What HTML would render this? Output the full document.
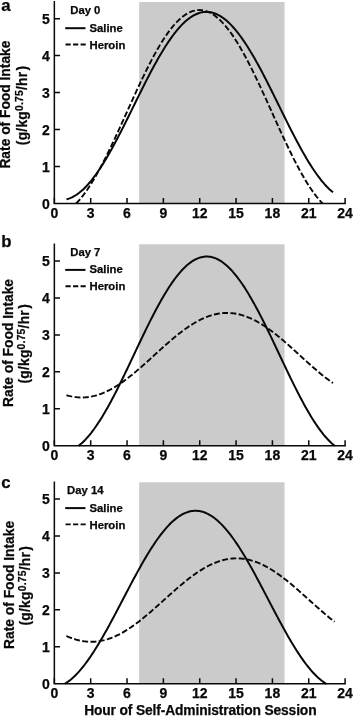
<!DOCTYPE html>
<html><head><meta charset="utf-8"><title>Figure</title>
<style>
html,body{margin:0;padding:0;background:#fff;}
body{width:354px;height:717px;overflow:hidden;}
svg{display:block;will-change:transform;}
text{font-family:"Liberation Sans",sans-serif;font-weight:bold;fill:#080808;stroke:#080808;stroke-width:0.25px;}
.tk{font-size:14px;}
.lg{font-size:11.3px;}
.ax{font-size:13.5px;}
.pl{font-size:16.8px;}
.ln{stroke:#080808;fill:none;}
</style></head><body>
<svg width="354" height="717" viewBox="0 0 354 717">
<rect x="0" y="0" width="354" height="717" fill="#fff"/>

<g>
<rect x="139.16" y="2.01" width="145.38" height="201.49" fill="#cbcbcb"/>
<path class="ln" stroke-width="1.5" d="M54.35,1.09 V203.50 H345.86"/>
<path class="ln" stroke-width="1.5" d="M54.35,166.53 h5.6 M54.35,129.56 h5.6 M54.35,92.59 h5.6 M54.35,55.62 h5.6 M54.35,18.65 h5.6 M54.35,203.50 v-5.6 M90.69,203.50 v-5.6 M127.04,203.50 v-5.6 M163.38,203.50 v-5.6 M199.73,203.50 v-5.6 M236.07,203.50 v-5.6 M272.42,203.50 v-5.6 M308.76,203.50 v-5.6 M345.11,203.50 v-5.6"/>
<text class="tk" x="49.9" y="208.5" text-anchor="end">0</text>
<text class="tk" x="49.9" y="171.5" text-anchor="end">1</text>
<text class="tk" x="49.9" y="134.6" text-anchor="end">2</text>
<text class="tk" x="49.9" y="97.6" text-anchor="end">3</text>
<text class="tk" x="49.9" y="60.6" text-anchor="end">4</text>
<text class="tk" x="49.9" y="23.7" text-anchor="end">5</text>
<text class="tk" x="54.4" y="217.9" text-anchor="middle">0</text>
<text class="tk" x="90.7" y="217.9" text-anchor="middle">3</text>
<text class="tk" x="127.0" y="217.9" text-anchor="middle">6</text>
<text class="tk" x="163.4" y="217.9" text-anchor="middle">9</text>
<text class="tk" x="199.7" y="217.9" text-anchor="middle">12</text>
<text class="tk" x="236.1" y="217.9" text-anchor="middle">15</text>
<text class="tk" x="272.4" y="217.9" text-anchor="middle">18</text>
<text class="tk" x="308.8" y="217.9" text-anchor="middle">21</text>
<text class="tk" x="345.1" y="217.9" text-anchor="middle">24</text>
<text class="ax" style="font-size:13.8px" transform="translate(10.3,104.6) rotate(-90)" text-anchor="middle">Rate of Food Intake</text>
<text class="ax" style="font-size:13.8px;letter-spacing:0.24px" transform="translate(26.5,105.4) rotate(-90)" text-anchor="middle">(g/kg<tspan font-size="10.3px" dy="-3.9">0.75</tspan><tspan dy="3.9">/hr</tspan><tspan dx="1.2">)</tspan></text>
<text class="pl" x="1.2" y="11.2">a</text>
<text class="lg" x="85.3" text-anchor="middle" y="14.2">Day 0</text>
<path class="ln" stroke-width="2.0" d="M65.2,28.2 h20.3"/>
<text class="lg" x="89.5" y="31.6">Saline</text>
<path class="ln" stroke-width="1.9" stroke-dasharray="5.2,2.35" d="M65.5,44.5 h20.2"/>
<text class="lg" x="89.5" y="48.6">Heroin</text>
<path class="ln" stroke-width="2.0" d="M66.47,199.32 L67.68,199.00 L68.89,198.61 L70.10,198.16 L71.31,197.65 L72.52,197.08 L73.73,196.44 L74.95,195.74 L76.16,194.98 L77.37,194.16 L78.58,193.28 L79.79,192.34 L81.00,191.33 L82.21,190.27 L83.43,189.16 L84.64,187.98 L85.85,186.75 L87.06,185.46 L88.27,184.12 L89.48,182.73 L90.69,181.28 L91.91,179.78 L93.12,178.23 L94.33,176.64 L95.54,174.99 L96.75,173.29 L97.96,171.55 L99.18,169.77 L100.39,167.94 L101.60,166.07 L102.81,164.15 L104.02,162.20 L105.23,160.21 L106.44,158.18 L107.66,156.11 L108.87,154.02 L110.08,151.88 L111.29,149.72 L112.50,147.53 L113.71,145.30 L114.93,143.06 L116.14,140.78 L117.35,138.48 L118.56,136.16 L119.77,133.82 L120.98,131.46 L122.19,129.08 L123.41,126.69 L124.62,124.28 L125.83,121.86 L127.04,119.43 L128.25,116.99 L129.46,114.54 L130.67,112.09 L131.89,109.63 L133.10,107.17 L134.31,104.71 L135.52,102.24 L136.73,99.79 L137.94,97.33 L139.16,94.88 L140.37,92.44 L141.58,90.01 L142.79,87.59 L144.00,85.18 L145.21,82.79 L146.42,80.41 L147.64,78.05 L148.85,75.71 L150.06,73.39 L151.27,71.09 L152.48,68.82 L153.69,66.57 L154.90,64.34 L156.12,62.15 L157.33,59.99 L158.54,57.86 L159.75,55.76 L160.96,53.69 L162.17,51.66 L163.38,49.67 L164.60,47.72 L165.81,45.81 L167.02,43.93 L168.23,42.10 L169.44,40.32 L170.65,38.58 L171.87,36.88 L173.08,35.24 L174.29,33.64 L175.50,32.09 L176.71,30.59 L177.92,29.14 L179.13,27.75 L180.35,26.41 L181.56,25.12 L182.77,23.89 L183.98,22.72 L185.19,21.60 L186.40,20.54 L187.62,19.54 L188.83,18.59 L190.04,17.71 L191.25,16.89 L192.46,16.13 L193.67,15.43 L194.88,14.79 L196.10,14.22 L197.31,13.71 L198.52,13.26 L199.73,12.87 L200.94,12.55 L202.15,12.29 L203.36,12.10 L204.58,11.97 L205.79,11.91 L207.00,11.91 L208.21,11.97 L209.42,12.10 L210.63,12.29 L211.84,12.55 L213.06,12.87 L214.27,13.26 L215.48,13.71 L216.69,14.22 L217.90,14.79 L219.11,15.43 L220.33,16.13 L221.54,16.89 L222.75,17.71 L223.96,18.59 L225.17,19.54 L226.38,20.54 L227.59,21.60 L228.81,22.72 L230.02,23.89 L231.23,25.12 L232.44,26.41 L233.65,27.75 L234.86,29.14 L236.07,30.59 L237.29,32.09 L238.50,33.64 L239.71,35.24 L240.92,36.88 L242.13,38.58 L243.34,40.32 L244.56,42.10 L245.77,43.93 L246.98,45.81 L248.19,47.72 L249.40,49.67 L250.61,51.66 L251.82,53.69 L253.04,55.76 L254.25,57.86 L255.46,59.99 L256.67,62.15 L257.88,64.34 L259.09,66.57 L260.31,68.82 L261.52,71.09 L262.73,73.39 L263.94,75.71 L265.15,78.05 L266.36,80.41 L267.57,82.79 L268.79,85.18 L270.00,87.59 L271.21,90.01 L272.42,92.44 L273.63,94.88 L274.84,97.33 L276.05,99.79 L277.27,102.24 L278.48,104.71 L279.69,107.17 L280.90,109.63 L282.11,112.09 L283.32,114.54 L284.54,116.99 L285.75,119.43 L286.96,121.86 L288.17,124.28 L289.38,126.69 L290.59,129.08 L291.80,131.46 L293.02,133.82 L294.23,136.16 L295.44,138.48 L296.65,140.78 L297.86,143.06 L299.07,145.30 L300.28,147.53 L301.50,149.72 L302.71,151.88 L303.92,154.02 L305.13,156.11 L306.34,158.18 L307.55,160.21 L308.76,162.20 L309.98,164.15 L311.19,166.07 L312.40,167.94 L313.61,169.77 L314.82,171.55 L316.03,173.29 L317.25,174.99 L318.46,176.64 L319.67,178.23 L320.88,179.78 L322.09,181.28 L323.30,182.73 L324.51,184.12 L325.73,185.46 L326.94,186.75 L328.15,187.98 L329.36,189.16 L330.57,190.27 L331.78,191.33 L333.00,192.34"/>
<path class="ln" stroke-width="1.9" stroke-dasharray="5.9,2.4" d="M76.17,203.50 L77.37,202.25 L78.58,200.92 L79.79,199.53 L81.00,198.08 L82.21,196.57 L83.43,195.00 L84.64,193.38 L85.85,191.70 L87.06,189.97 L88.27,188.19 L89.48,186.35 L90.69,184.46 L91.91,182.53 L93.12,180.54 L94.33,178.51 L95.54,176.43 L96.75,174.31 L97.96,172.15 L99.18,169.95 L100.39,167.70 L101.60,165.42 L102.81,163.11 L104.02,160.76 L105.23,158.37 L106.44,155.96 L107.66,153.51 L108.87,151.04 L110.08,148.54 L111.29,146.01 L112.50,143.46 L113.71,140.90 L114.93,138.31 L116.14,135.70 L117.35,133.08 L118.56,130.44 L119.77,127.80 L120.98,125.14 L122.19,122.47 L123.41,119.80 L124.62,117.12 L125.83,114.44 L127.04,111.75 L128.25,109.07 L129.46,106.39 L130.67,103.71 L131.89,101.04 L133.10,98.38 L134.31,95.73 L135.52,93.09 L136.73,90.46 L137.94,87.85 L139.16,85.25 L140.37,82.68 L141.58,80.12 L142.79,77.59 L144.00,75.08 L145.21,72.59 L146.42,70.14 L147.64,67.71 L148.85,65.31 L150.06,62.95 L151.27,60.61 L152.48,58.32 L153.69,56.06 L154.90,53.84 L156.12,51.66 L157.33,49.53 L158.54,47.43 L159.75,45.38 L160.96,43.38 L162.17,41.42 L163.38,39.52 L164.60,37.66 L165.81,35.85 L167.02,34.10 L168.23,32.40 L169.44,30.76 L170.65,29.17 L171.87,27.64 L173.08,26.16 L174.29,24.75 L175.50,23.39 L176.71,22.10 L177.92,20.87 L179.13,19.70 L180.35,18.60 L181.56,17.56 L182.77,16.58 L183.98,15.68 L185.19,14.83 L186.40,14.06 L187.62,13.35 L188.83,12.71 L190.04,12.14 L191.25,11.64 L192.46,11.20 L193.67,10.84 L194.88,10.54 L196.10,10.32 L197.31,10.16 L198.52,10.08 L199.73,10.07 L200.94,10.12 L202.15,10.25 L203.36,10.44 L204.58,10.71 L205.79,11.05 L207.00,11.45 L208.21,11.93 L209.42,12.47 L210.63,13.09 L211.84,13.77 L213.06,14.51 L214.27,15.33 L215.48,16.21 L216.69,17.16 L217.90,18.18 L219.11,19.25 L220.33,20.40 L221.54,21.60 L222.75,22.87 L223.96,24.20 L225.17,25.59 L226.38,27.04 L227.59,28.55 L228.81,30.11 L230.02,31.74 L231.23,33.41 L232.44,35.15 L233.65,36.93 L234.86,38.77 L236.07,40.65 L237.29,42.59 L238.50,44.58 L239.71,46.61 L240.92,48.68 L242.13,50.80 L243.34,52.97 L244.56,55.17 L245.77,57.41 L246.98,59.69 L248.19,62.01 L249.40,64.36 L250.61,66.74 L251.82,69.16 L253.04,71.61 L254.25,74.08 L255.46,76.58 L256.67,79.10 L257.88,81.65 L259.09,84.22 L260.31,86.81 L261.52,89.41 L262.73,92.04 L263.94,94.67 L265.15,97.32 L266.36,99.98 L267.57,102.65 L268.79,105.32 L270.00,108.00 L271.21,110.68 L272.42,113.36 L273.63,116.05 L274.84,118.73 L276.05,121.40 L277.27,124.07 L278.48,126.73 L279.69,129.39 L280.90,132.03 L282.11,134.66 L283.32,137.27 L284.54,139.86 L285.75,142.44 L286.96,145.00 L288.17,147.53 L289.38,150.04 L290.59,152.52 L291.80,154.98 L293.02,157.41 L294.23,159.81 L295.44,162.17 L296.65,164.50 L297.86,166.80 L299.07,169.05 L300.28,171.27 L301.50,173.45 L302.71,175.59 L303.92,177.68 L305.13,179.73 L306.34,181.74 L307.55,183.69 L308.76,185.60 L309.98,187.46 L311.19,189.26 L312.40,191.02 L313.61,192.72 L314.82,194.36 L316.03,195.95 L317.25,197.48 L318.46,198.95 L319.67,200.37 L320.88,201.72 L322.09,203.01 L322.57,203.50"/>
</g>
<g>
<rect x="139.16" y="244.31" width="145.38" height="201.49" fill="#cbcbcb"/>
<path class="ln" stroke-width="1.5" d="M54.35,243.39 V445.80 H345.86"/>
<path class="ln" stroke-width="1.5" d="M54.35,408.83 h5.6 M54.35,371.86 h5.6 M54.35,334.89 h5.6 M54.35,297.92 h5.6 M54.35,260.95 h5.6 M54.35,445.80 v-5.6 M90.69,445.80 v-5.6 M127.04,445.80 v-5.6 M163.38,445.80 v-5.6 M199.73,445.80 v-5.6 M236.07,445.80 v-5.6 M272.42,445.80 v-5.6 M308.76,445.80 v-5.6 M345.11,445.80 v-5.6"/>
<text class="tk" x="49.9" y="450.8" text-anchor="end">0</text>
<text class="tk" x="49.9" y="413.8" text-anchor="end">1</text>
<text class="tk" x="49.9" y="376.9" text-anchor="end">2</text>
<text class="tk" x="49.9" y="339.9" text-anchor="end">3</text>
<text class="tk" x="49.9" y="302.9" text-anchor="end">4</text>
<text class="tk" x="49.9" y="266.0" text-anchor="end">5</text>
<text class="tk" x="54.4" y="460.2" text-anchor="middle">0</text>
<text class="tk" x="90.7" y="460.2" text-anchor="middle">3</text>
<text class="tk" x="127.0" y="460.2" text-anchor="middle">6</text>
<text class="tk" x="163.4" y="460.2" text-anchor="middle">9</text>
<text class="tk" x="199.7" y="460.2" text-anchor="middle">12</text>
<text class="tk" x="236.1" y="460.2" text-anchor="middle">15</text>
<text class="tk" x="272.4" y="460.2" text-anchor="middle">18</text>
<text class="tk" x="308.8" y="460.2" text-anchor="middle">21</text>
<text class="tk" x="345.1" y="460.2" text-anchor="middle">24</text>
<text class="ax" style="font-size:13.8px" transform="translate(12.8,343.0) rotate(-90)" text-anchor="middle">Rate of Food Intake</text>
<text class="ax" style="font-size:13.8px;letter-spacing:0.24px" transform="translate(29.0,343.8) rotate(-90)" text-anchor="middle">(g/kg<tspan font-size="10.3px" dy="-3.9">0.75</tspan><tspan dy="3.9">/hr</tspan><tspan dx="1.2">)</tspan></text>
<text class="pl" x="1.2" y="247.4">b</text>
<text class="lg" x="85.3" text-anchor="middle" y="255.9">Day 7</text>
<path class="ln" stroke-width="2.0" d="M65.2,269.9 h20.3"/>
<text class="lg" x="89.5" y="273.3">Saline</text>
<path class="ln" stroke-width="1.9" stroke-dasharray="5.2,2.35" d="M65.5,286.2 h20.2"/>
<text class="lg" x="89.5" y="290.3">Heroin</text>
<path class="ln" stroke-width="2.0" d="M78.60,445.80 L78.86,445.61 L80.09,444.60 L81.33,443.53 L82.57,442.40 L83.81,441.21 L85.05,439.95 L86.29,438.63 L87.53,437.25 L88.77,435.82 L90.01,434.32 L91.25,432.77 L92.48,431.16 L93.72,429.49 L94.96,427.78 L96.20,426.01 L97.44,424.18 L98.68,422.31 L99.92,420.39 L101.16,418.43 L102.40,416.41 L103.64,414.35 L104.88,412.25 L106.11,410.11 L107.35,407.93 L108.59,405.71 L109.83,403.45 L111.07,401.16 L112.31,398.84 L113.55,396.48 L114.79,394.10 L116.03,391.68 L117.27,389.24 L118.50,386.77 L119.74,384.28 L120.98,381.77 L122.22,379.24 L123.46,376.69 L124.70,374.13 L125.94,371.55 L127.18,368.96 L128.42,366.36 L129.66,363.75 L130.89,361.13 L132.13,358.51 L133.37,355.89 L134.61,353.27 L135.85,350.64 L137.09,348.02 L138.33,345.41 L139.57,342.80 L140.81,340.20 L142.05,337.61 L143.29,335.03 L144.52,332.46 L145.76,329.92 L147.00,327.38 L148.24,324.87 L149.48,322.38 L150.72,319.92 L151.96,317.47 L153.20,315.06 L154.44,312.67 L155.68,310.31 L156.91,307.99 L158.15,305.70 L159.39,303.44 L160.63,301.22 L161.87,299.04 L163.11,296.89 L164.35,294.79 L165.59,292.73 L166.83,290.72 L168.07,288.75 L169.30,286.83 L170.54,284.96 L171.78,283.13 L173.02,281.36 L174.26,279.64 L175.50,277.98 L176.74,276.37 L177.98,274.81 L179.22,273.32 L180.46,271.88 L181.70,270.50 L182.93,269.18 L184.17,267.92 L185.41,266.72 L186.65,265.59 L187.89,264.52 L189.13,263.52 L190.37,262.58 L191.61,261.70 L192.85,260.89 L194.09,260.15 L195.32,259.48 L196.56,258.88 L197.80,258.34 L199.04,257.88 L200.28,257.48 L201.52,257.15 L202.76,256.89 L204.00,256.70 L205.24,256.59 L206.48,256.54 L207.71,256.56 L208.95,256.65 L210.19,256.82 L211.43,257.05 L212.67,257.35 L213.91,257.73 L215.15,258.17 L216.39,258.68 L217.63,259.26 L218.87,259.91 L220.11,260.62 L221.34,261.41 L222.58,262.26 L223.82,263.17 L225.06,264.16 L226.30,265.20 L227.54,266.31 L228.78,267.49 L230.02,268.72 L231.26,270.02 L232.50,271.38 L233.73,272.80 L234.97,274.27 L236.21,275.81 L237.45,277.40 L238.69,279.04 L239.93,280.75 L241.17,282.50 L242.41,284.30 L243.65,286.16 L244.89,288.06 L246.12,290.01 L247.36,292.01 L248.60,294.05 L249.84,296.14 L251.08,298.27 L252.32,300.44 L253.56,302.64 L254.80,304.89 L256.04,307.17 L257.28,309.48 L258.52,311.83 L259.75,314.21 L260.99,316.61 L262.23,319.04 L263.47,321.50 L264.71,323.99 L265.95,326.49 L267.19,329.01 L268.43,331.56 L269.67,334.11 L270.91,336.69 L272.14,339.27 L273.38,341.87 L274.62,344.48 L275.86,347.09 L277.10,349.71 L278.34,352.33 L279.58,354.96 L280.82,357.58 L282.06,360.20 L283.30,362.82 L284.54,365.43 L285.77,368.04 L287.01,370.63 L288.25,373.21 L289.49,375.78 L290.73,378.34 L291.97,380.87 L293.21,383.39 L294.45,385.89 L295.69,388.36 L296.93,390.81 L298.16,393.24 L299.40,395.64 L300.64,398.00 L301.88,400.34 L303.12,402.64 L304.36,404.91 L305.60,407.15 L306.84,409.34 L308.08,411.50 L309.32,413.61 L310.55,415.69 L311.79,417.71 L313.03,419.70 L314.27,421.64 L315.51,423.52 L316.75,425.36 L317.99,427.15 L319.23,428.89 L320.47,430.57 L321.71,432.20 L322.95,433.77 L324.18,435.29 L325.42,436.75 L326.66,438.15 L327.90,439.49 L329.14,440.77 L330.38,441.98 L331.62,443.14 L332.86,444.23 L334.10,445.26 L334.80,445.80"/>
<path class="ln" stroke-width="1.9" stroke-dasharray="5.9,2.4" d="M66.47,395.23 L67.68,395.57 L68.89,395.89 L70.10,396.17 L71.31,396.43 L72.52,396.66 L73.73,396.86 L74.95,397.04 L76.16,397.18 L77.37,397.30 L78.58,397.38 L79.79,397.44 L81.00,397.47 L82.21,397.47 L83.43,397.44 L84.64,397.38 L85.85,397.30 L87.06,397.18 L88.27,397.04 L89.48,396.86 L90.69,396.66 L91.91,396.43 L93.12,396.17 L94.33,395.89 L95.54,395.57 L96.75,395.23 L97.96,394.86 L99.18,394.47 L100.39,394.04 L101.60,393.59 L102.81,393.12 L104.02,392.61 L105.23,392.09 L106.44,391.53 L107.66,390.95 L108.87,390.35 L110.08,389.72 L111.29,389.07 L112.50,388.40 L113.71,387.70 L114.93,386.99 L116.14,386.25 L117.35,385.48 L118.56,384.70 L119.77,383.90 L120.98,383.08 L122.19,382.24 L123.41,381.38 L124.62,380.50 L125.83,379.60 L127.04,378.69 L128.25,377.76 L129.46,376.82 L130.67,375.86 L131.89,374.89 L133.10,373.90 L134.31,372.90 L135.52,371.89 L136.73,370.87 L137.94,369.84 L139.16,368.80 L140.37,367.74 L141.58,366.68 L142.79,365.61 L144.00,364.54 L145.21,363.46 L146.42,362.37 L147.64,361.28 L148.85,360.18 L150.06,359.08 L151.27,357.98 L152.48,356.87 L153.69,355.76 L154.90,354.66 L156.12,353.55 L157.33,352.45 L158.54,351.34 L159.75,350.24 L160.96,349.15 L162.17,348.05 L163.38,346.97 L164.60,345.88 L165.81,344.81 L167.02,343.74 L168.23,342.68 L169.44,341.63 L170.65,340.58 L171.87,339.55 L173.08,338.53 L174.29,337.52 L175.50,336.52 L176.71,335.53 L177.92,334.56 L179.13,333.60 L180.35,332.66 L181.56,331.73 L182.77,330.82 L183.98,329.92 L185.19,329.05 L186.40,328.19 L187.62,327.35 L188.83,326.52 L190.04,325.72 L191.25,324.94 L192.46,324.18 L193.67,323.44 L194.88,322.72 L196.10,322.02 L197.31,321.35 L198.52,320.70 L199.73,320.07 L200.94,319.47 L202.15,318.89 L203.36,318.34 L204.58,317.81 L205.79,317.31 L207.00,316.83 L208.21,316.38 L209.42,315.96 L210.63,315.56 L211.84,315.19 L213.06,314.85 L214.27,314.54 L215.48,314.25 L216.69,313.99 L217.90,313.76 L219.11,313.56 L220.33,313.39 L221.54,313.24 L222.75,313.13 L223.96,313.04 L225.17,312.98 L226.38,312.95 L227.59,312.95 L228.81,312.98 L230.02,313.04 L231.23,313.13 L232.44,313.24 L233.65,313.39 L234.86,313.56 L236.07,313.76 L237.29,313.99 L238.50,314.25 L239.71,314.54 L240.92,314.85 L242.13,315.19 L243.34,315.56 L244.56,315.96 L245.77,316.38 L246.98,316.83 L248.19,317.31 L249.40,317.81 L250.61,318.34 L251.82,318.89 L253.04,319.47 L254.25,320.07 L255.46,320.70 L256.67,321.35 L257.88,322.02 L259.09,322.72 L260.31,323.44 L261.52,324.18 L262.73,324.94 L263.94,325.72 L265.15,326.52 L266.36,327.35 L267.57,328.19 L268.79,329.05 L270.00,329.92 L271.21,330.82 L272.42,331.73 L273.63,332.66 L274.84,333.60 L276.05,334.56 L277.27,335.53 L278.48,336.52 L279.69,337.52 L280.90,338.53 L282.11,339.55 L283.32,340.58 L284.54,341.63 L285.75,342.68 L286.96,343.74 L288.17,344.81 L289.38,345.88 L290.59,346.97 L291.80,348.05 L293.02,349.15 L294.23,350.24 L295.44,351.34 L296.65,352.45 L297.86,353.55 L299.07,354.66 L300.28,355.76 L301.50,356.87 L302.71,357.98 L303.92,359.08 L305.13,360.18 L306.34,361.28 L307.55,362.37 L308.76,363.46 L309.98,364.54 L311.19,365.61 L312.40,366.68 L313.61,367.74 L314.82,368.80 L316.03,369.84 L317.25,370.87 L318.46,371.89 L319.67,372.90 L320.88,373.90 L322.09,374.89 L323.30,375.86 L324.51,376.82 L325.73,377.76 L326.94,378.69 L328.15,379.60 L329.36,380.50 L330.57,381.38 L331.78,382.24 L333.00,383.08"/>
</g>
<g>
<rect x="139.16" y="482.31" width="145.38" height="201.49" fill="#cbcbcb"/>
<path class="ln" stroke-width="1.5" d="M54.35,481.39 V683.80 H345.86"/>
<path class="ln" stroke-width="1.5" d="M54.35,646.83 h5.6 M54.35,609.86 h5.6 M54.35,572.89 h5.6 M54.35,535.92 h5.6 M54.35,498.95 h5.6 M54.35,683.80 v-5.6 M90.69,683.80 v-5.6 M127.04,683.80 v-5.6 M163.38,683.80 v-5.6 M199.73,683.80 v-5.6 M236.07,683.80 v-5.6 M272.42,683.80 v-5.6 M308.76,683.80 v-5.6 M345.11,683.80 v-5.6"/>
<text class="tk" x="49.9" y="688.8" text-anchor="end">0</text>
<text class="tk" x="49.9" y="651.8" text-anchor="end">1</text>
<text class="tk" x="49.9" y="614.9" text-anchor="end">2</text>
<text class="tk" x="49.9" y="577.9" text-anchor="end">3</text>
<text class="tk" x="49.9" y="540.9" text-anchor="end">4</text>
<text class="tk" x="49.9" y="503.9" text-anchor="end">5</text>
<text class="tk" x="54.4" y="698.2" text-anchor="middle">0</text>
<text class="tk" x="90.7" y="698.2" text-anchor="middle">3</text>
<text class="tk" x="127.0" y="698.2" text-anchor="middle">6</text>
<text class="tk" x="163.4" y="698.2" text-anchor="middle">9</text>
<text class="tk" x="199.7" y="698.2" text-anchor="middle">12</text>
<text class="tk" x="236.1" y="698.2" text-anchor="middle">15</text>
<text class="tk" x="272.4" y="698.2" text-anchor="middle">18</text>
<text class="tk" x="308.8" y="698.2" text-anchor="middle">21</text>
<text class="tk" x="345.1" y="698.2" text-anchor="middle">24</text>
<text class="ax" style="font-size:13.8px" transform="translate(13.5,584.9) rotate(-90)" text-anchor="middle">Rate of Food Intake</text>
<text class="ax" style="font-size:13.8px;letter-spacing:0.24px" transform="translate(29.7,585.7) rotate(-90)" text-anchor="middle">(g/kg<tspan font-size="10.3px" dy="-3.9">0.75</tspan><tspan dy="3.9">/hr</tspan><tspan dx="1.2">)</tspan></text>
<text class="pl" x="1.2" y="488">c</text>
<text class="lg" x="85.3" text-anchor="middle" y="494.1">Day 14</text>
<path class="ln" stroke-width="2.0" d="M65.2,508.1 h20.3"/>
<text class="lg" x="89.5" y="511.5">Saline</text>
<path class="ln" stroke-width="1.9" stroke-dasharray="5.2,2.35" d="M65.5,524.4 h20.2"/>
<text class="lg" x="89.5" y="528.5">Heroin</text>
<path class="ln" stroke-width="2.0" d="M64.80,683.80 L65.36,683.47 L66.60,682.67 L67.84,681.81 L69.08,680.90 L70.32,679.93 L71.56,678.90 L72.80,677.81 L74.04,676.66 L75.28,675.47 L76.51,674.21 L77.75,672.91 L78.99,671.55 L80.23,670.13 L81.47,668.67 L82.71,667.16 L83.95,665.60 L85.19,663.99 L86.43,662.34 L87.67,660.64 L88.91,658.90 L90.14,657.11 L91.38,655.29 L92.62,653.42 L93.86,651.51 L95.10,649.57 L96.34,647.59 L97.58,645.58 L98.82,643.54 L100.06,641.46 L101.30,639.35 L102.53,637.21 L103.77,635.05 L105.01,632.86 L106.25,630.65 L107.49,628.42 L108.73,626.16 L109.97,623.89 L111.21,621.59 L112.45,619.28 L113.69,616.96 L114.93,614.63 L116.16,612.28 L117.40,609.93 L118.64,607.56 L119.88,605.20 L121.12,602.82 L122.36,600.45 L123.60,598.07 L124.84,595.70 L126.08,593.33 L127.32,590.96 L128.55,588.60 L129.79,586.25 L131.03,583.90 L132.27,581.57 L133.51,579.25 L134.75,576.95 L135.99,574.66 L137.23,572.39 L138.47,570.13 L139.71,567.90 L140.94,565.70 L142.18,563.51 L143.42,561.35 L144.66,559.22 L145.90,557.12 L147.14,555.05 L148.38,553.01 L149.62,551.00 L150.86,549.03 L152.10,547.10 L153.34,545.20 L154.57,543.34 L155.81,541.52 L157.05,539.74 L158.29,538.01 L159.53,536.32 L160.77,534.68 L162.01,533.08 L163.25,531.53 L164.49,530.02 L165.73,528.57 L166.96,527.17 L168.20,525.82 L169.44,524.52 L170.68,523.28 L171.92,522.09 L173.16,520.96 L174.40,519.88 L175.64,518.86 L176.88,517.90 L178.12,517.00 L179.35,516.15 L180.59,515.37 L181.83,514.64 L183.07,513.98 L184.31,513.38 L185.55,512.84 L186.79,512.36 L188.03,511.94 L189.27,511.59 L190.51,511.30 L191.75,511.07 L192.98,510.91 L194.22,510.81 L195.46,510.78 L196.70,510.80 L197.94,510.89 L199.18,511.05 L200.42,511.27 L201.66,511.55 L202.90,511.89 L204.14,512.30 L205.37,512.77 L206.61,513.30 L207.85,513.89 L209.09,514.55 L210.33,515.26 L211.57,516.04 L212.81,516.87 L214.05,517.77 L215.29,518.72 L216.53,519.73 L217.76,520.80 L219.00,521.93 L220.24,523.11 L221.48,524.34 L222.72,525.63 L223.96,526.97 L225.20,528.37 L226.44,529.81 L227.68,531.31 L228.92,532.85 L230.16,534.44 L231.39,536.08 L232.63,537.77 L233.87,539.50 L235.11,541.27 L236.35,543.08 L237.59,544.93 L238.83,546.82 L240.07,548.75 L241.31,550.72 L242.55,552.72 L243.78,554.76 L245.02,556.82 L246.26,558.92 L247.50,561.05 L248.74,563.20 L249.98,565.38 L251.22,567.59 L252.46,569.82 L253.70,572.07 L254.94,574.33 L256.17,576.62 L257.41,578.92 L258.65,581.24 L259.89,583.57 L261.13,585.91 L262.37,588.27 L263.61,590.63 L264.85,592.99 L266.09,595.36 L267.33,597.74 L268.57,600.11 L269.80,602.49 L271.04,604.86 L272.28,607.23 L273.52,609.59 L274.76,611.95 L276.00,614.29 L277.24,616.63 L278.48,618.96 L279.72,621.27 L280.96,623.56 L282.19,625.84 L283.43,628.10 L284.67,630.33 L285.91,632.55 L287.15,634.74 L288.39,636.91 L289.63,639.05 L290.87,641.16 L292.11,643.24 L293.35,645.29 L294.58,647.31 L295.82,649.29 L297.06,651.24 L298.30,653.15 L299.54,655.02 L300.78,656.86 L302.02,658.65 L303.26,660.40 L304.50,662.10 L305.74,663.76 L306.98,665.37 L308.21,666.94 L309.45,668.46 L310.69,669.93 L311.93,671.35 L313.17,672.71 L314.41,674.03 L315.65,675.29 L316.89,676.50 L318.13,677.65 L319.37,678.74 L320.60,679.78 L321.84,680.76 L323.08,681.69 L324.32,682.55 L325.56,683.36 L326.30,683.80"/>
<path class="ln" stroke-width="1.9" stroke-dasharray="5.9,2.4" d="M66.47,635.98 L67.68,636.53 L68.90,637.05 L70.12,637.54 L71.34,638.01 L72.56,638.46 L73.78,638.87 L75.00,639.26 L76.21,639.63 L77.43,639.96 L78.65,640.27 L79.87,640.55 L81.09,640.80 L82.31,641.02 L83.53,641.22 L84.74,641.39 L85.96,641.52 L87.18,641.63 L88.40,641.71 L89.62,641.77 L90.84,641.79 L92.06,641.78 L93.28,641.75 L94.49,641.68 L95.71,641.59 L96.93,641.47 L98.15,641.32 L99.37,641.14 L100.59,640.93 L101.81,640.69 L103.02,640.43 L104.24,640.14 L105.46,639.82 L106.68,639.47 L107.90,639.10 L109.12,638.69 L110.34,638.27 L111.56,637.81 L112.77,637.33 L113.99,636.82 L115.21,636.29 L116.43,635.73 L117.65,635.15 L118.87,634.54 L120.09,633.91 L121.30,633.26 L122.52,632.58 L123.74,631.88 L124.96,631.16 L126.18,630.42 L127.40,629.65 L128.62,628.87 L129.84,628.06 L131.05,627.24 L132.27,626.40 L133.49,625.53 L134.71,624.66 L135.93,623.76 L137.15,622.85 L138.37,621.92 L139.58,620.98 L140.80,620.02 L142.02,619.05 L143.24,618.06 L144.46,617.06 L145.68,616.06 L146.90,615.04 L148.12,614.01 L149.33,612.97 L150.55,611.92 L151.77,610.86 L152.99,609.79 L154.21,608.72 L155.43,607.65 L156.65,606.56 L157.86,605.48 L159.08,604.38 L160.30,603.29 L161.52,602.19 L162.74,601.10 L163.96,600.00 L165.18,598.90 L166.40,597.80 L167.61,596.71 L168.83,595.61 L170.05,594.52 L171.27,593.44 L172.49,592.35 L173.71,591.28 L174.93,590.21 L176.14,589.14 L177.36,588.09 L178.58,587.04 L179.80,586.00 L181.02,584.97 L182.24,583.95 L183.46,582.95 L184.67,581.95 L185.89,580.97 L187.11,580.00 L188.33,579.04 L189.55,578.10 L190.77,577.17 L191.99,576.26 L193.21,575.37 L194.42,574.49 L195.64,573.64 L196.86,572.80 L198.08,571.97 L199.30,571.17 L200.52,570.39 L201.74,569.63 L202.95,568.89 L204.17,568.17 L205.39,567.47 L206.61,566.80 L207.83,566.15 L209.05,565.52 L210.27,564.92 L211.49,564.34 L212.70,563.79 L213.92,563.26 L215.14,562.75 L216.36,562.28 L217.58,561.83 L218.80,561.40 L220.02,561.00 L221.23,560.63 L222.45,560.29 L223.67,559.97 L224.89,559.69 L226.11,559.43 L227.33,559.19 L228.55,558.99 L229.77,558.82 L230.98,558.67 L232.20,558.55 L233.42,558.46 L234.64,558.40 L235.86,558.37 L237.08,558.37 L238.30,558.40 L239.51,558.45 L240.73,558.54 L241.95,558.65 L243.17,558.79 L244.39,558.96 L245.61,559.16 L246.83,559.39 L248.05,559.64 L249.26,559.93 L250.48,560.24 L251.70,560.58 L252.92,560.95 L254.14,561.34 L255.36,561.76 L256.58,562.21 L257.79,562.68 L259.01,563.18 L260.23,563.71 L261.45,564.26 L262.67,564.83 L263.89,565.43 L265.11,566.05 L266.33,566.70 L267.54,567.37 L268.76,568.06 L269.98,568.78 L271.20,569.52 L272.42,570.27 L273.64,571.05 L274.86,571.85 L276.07,572.67 L277.29,573.51 L278.51,574.36 L279.73,575.24 L280.95,576.13 L282.17,577.04 L283.39,577.96 L284.60,578.90 L285.82,579.85 L287.04,580.82 L288.26,581.80 L289.48,582.79 L290.70,583.80 L291.92,584.82 L293.14,585.84 L294.35,586.88 L295.57,587.93 L296.79,588.98 L298.01,590.05 L299.23,591.12 L300.45,592.19 L301.67,593.27 L302.88,594.36 L304.10,595.45 L305.32,596.54 L306.54,597.64 L307.76,598.73 L308.98,599.83 L310.20,600.93 L311.42,602.03 L312.63,603.13 L313.85,604.22 L315.07,605.31 L316.29,606.40 L317.51,607.48 L318.73,608.56 L319.95,609.63 L321.16,610.70 L322.38,611.76 L323.60,612.81 L324.82,613.85 L326.04,614.88 L327.26,615.90 L328.48,616.91 L329.70,617.91 L330.91,618.90 L332.13,619.87 L333.35,620.83 L334.57,621.78"/>
</g>
<text class="ax" style="font-size:13.8px;letter-spacing:-0.13px" x="200.3" y="715.4" text-anchor="middle">Hour of Self-Administration Session</text>
</svg></body></html>
